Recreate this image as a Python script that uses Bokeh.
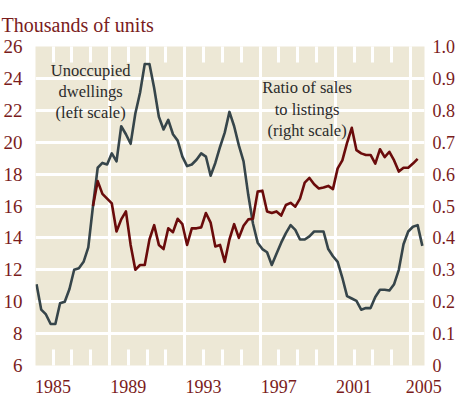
from bokeh.plotting import figure
from bokeh.models import Range1d, LinearAxis, FixedTicker
from bokeh.core.properties import value
from bokeh.embed import file_html
from bokeh.resources import INLINE

# ---------------- data ----------------
start_year = 1984.125          # first quarter (mid-point), quarterly series
# Unoccupied dwellings, thousands of units (left scale), 1984Q1 - 2004Q3
dwellings = [11.1, 9.5, 9.2, 8.6, 8.6, 9.9, 10.0, 10.8, 12.0, 12.1, 12.5, 13.4,
             16.0, 18.4, 18.7, 18.6, 19.3, 18.8, 21.0, 20.5, 19.9, 21.8, 23.1, 24.9,
             24.9, 23.4, 21.6, 20.8, 21.4, 20.5, 20.1, 19.1, 18.5, 18.6, 18.9, 19.3,
             19.1, 17.9, 18.7, 19.7, 20.6, 21.9, 21.0, 19.8, 18.8, 16.7, 14.9, 13.7,
             13.3, 13.1, 12.3, 13.0, 13.7, 14.3, 14.8, 14.5, 13.9, 13.9, 14.1, 14.4,
             14.4, 14.4, 13.3, 12.85, 12.5, 11.5, 10.35, 10.2, 10.05, 9.5, 9.6, 9.6,
             10.3, 10.75, 10.75, 10.7, 11.1, 12.0, 13.6, 14.4, 14.7, 14.8, 13.5]
# Ratio of sales to listings (right scale), 1987Q1 - 2004Q2
ratio_start_index = 12
ratio = [0.50, 0.578, 0.538, 0.523, 0.508, 0.42, 0.458, 0.483, 0.378, 0.30, 0.315, 0.315,
         0.395, 0.44, 0.378, 0.365, 0.43, 0.418, 0.46, 0.443, 0.378, 0.43, 0.43, 0.433,
         0.478, 0.448, 0.373, 0.378, 0.325, 0.395, 0.443, 0.40, 0.438, 0.458, 0.46, 0.545,
         0.548, 0.483, 0.478, 0.483, 0.47, 0.503, 0.51, 0.498, 0.523, 0.573, 0.588, 0.568,
         0.555, 0.558, 0.563, 0.553, 0.618, 0.643, 0.698, 0.745, 0.675, 0.665, 0.66, 0.66,
         0.633, 0.678, 0.653, 0.67, 0.643, 0.608, 0.62, 0.62, 0.633, 0.648]

year_ticks = [1985, 1989, 1993, 1997, 2001, 2004.7]
year_labels = ["1985", "1989", "1993", "1997", "2001", "2005"]
year_minor = list(range(1985, 2005))
year_grid = [1988, 1992, 1996, 2000, 2004]
left_ticks = [6, 8, 10, 12, 14, 16, 18, 20, 22, 24, 26]
left_grid = [8, 10, 12, 14, 16, 18, 20, 22, 24]
right_ticks = [0, 0.1, 0.2, 0.3, 0.4, 0.5, 0.6, 0.7, 0.8, 0.9, 1.0]
right_labels = ["0", "0.1", "0.2", "0.3", "0.4", "0.5", "0.6", "0.7", "0.8", "0.9", "1.0"]

x_dw = [start_year + 0.25 * i for i in range(len(dwellings))]
x_ra = [start_year + 0.25 * (ratio_start_index + i) for i in range(len(ratio))]

# ---------------- styles ----------------
BG = "#EDE8D6"
TXT = "#7A1C1C"
RED = "#6A0B0B"
GRAY = "#36454A"
FONT = "Liberation Serif"

p = figure(width=458, height=395,
           x_range=Range1d(1984.07, 2004.74), y_range=Range1d(6, 26),
           output_backend="svg", toolbar_location=None,
           min_border_left=34, min_border_right=32, min_border_top=39,
           min_border_bottom=29, x_axis_location=None, y_axis_location=None)
p.extra_y_ranges = {"ratio": Range1d(0, 1)}
p.background_fill_color = BG
p.border_fill_color = "white"
p.outline_line_color = None

# title
p.title.text = "Thousands of units"
p.title.text_font = FONT
p.title.text_font_size = "20px"
p.title.text_font_style = "normal"
p.title.text_color = TXT
p.title.align = "left"
p.title.offset = -34
p.title.standoff = 22

def style_axis(ax, standoff):
    ax.axis_line_color = None
    ax.major_tick_line_color = None
    ax.minor_tick_line_color = None
    ax.major_tick_out = 0
    ax.major_tick_in = 0
    ax.minor_tick_out = 0
    ax.minor_tick_in = 0
    ax.major_label_text_font = FONT
    ax.major_label_text_font_size = "18px"
    ax.major_label_text_color = TXT
    ax.major_label_standoff = standoff

# bottom axis with year labels and white minor ticks inside the frame
xb = LinearAxis(ticker=FixedTicker(ticks=year_ticks, minor_ticks=year_minor))
style_axis(xb, 14)
xb.major_label_overrides = {t: l for t, l in zip(year_ticks, year_labels)}
xb.minor_tick_line_color = "white"
xb.minor_tick_line_width = 3
xb.minor_tick_in = 16
p.add_layout(xb, "below")

# top axis: only the white minor ticks
xt = LinearAxis(ticker=FixedTicker(ticks=[], minor_ticks=year_minor))
style_axis(xt, 0)
xt.major_label_text_font_size = "0px"
xt.minor_tick_line_color = "white"
xt.minor_tick_line_width = 3
xt.minor_tick_in = 16
p.add_layout(xt, "above")

yl = LinearAxis(ticker=FixedTicker(ticks=left_ticks))
style_axis(yl, 13)
yl.major_label_text_font_size = "19px"
p.add_layout(yl, "left")

yr = LinearAxis(y_range_name="ratio", ticker=FixedTicker(ticks=right_ticks))
style_axis(yr, 8)
yr.major_label_overrides = {t: l for t, l in zip(right_ticks, right_labels)}
p.add_layout(yr, "right")

# grid
p.xgrid.ticker = FixedTicker(ticks=year_grid)
p.ygrid.ticker = FixedTicker(ticks=left_grid)
for g in (p.xgrid[0], p.ygrid[0]):
    g.grid_line_color = "white"
    g.grid_line_width = 3
    g.grid_line_alpha = 1.0

# lines
p.line(x_dw, dwellings, line_color=GRAY, line_width=2.6, line_join="round")
p.line(x_ra, ratio, y_range_name="ratio", line_color=RED, line_width=2.6,
       line_join="round")

# annotations
p.text(x=[1987.0], y=[25.1], text=["Unoccupied\ndwellings\n(left scale)"],
       text_font=value(FONT), text_font_size="16.5px", text_color="#2B2B2B",
       text_align="center", text_baseline="top", text_line_height=1.12)
p.text(x=[1998.5], y=[24.0], text=["Ratio of sales\nto listings\n(right scale)"],
       text_font=value(FONT), text_font_size="16.5px", text_color="#2B2B2B",
       text_align="center", text_baseline="top", text_line_height=1.12)

open("out.html", "w").write(file_html(p, INLINE))
